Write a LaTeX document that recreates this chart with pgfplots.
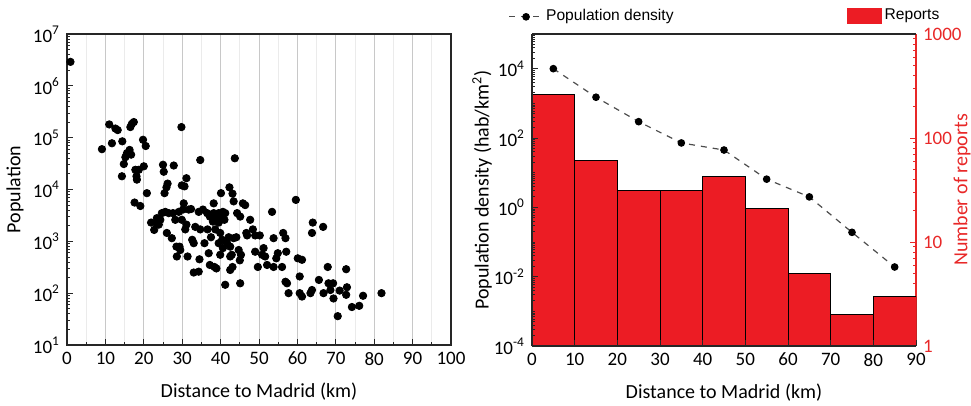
\documentclass[border=0pt]{standalone}
\usepackage{pgfplots}
\pgfplotsset{compat=1.18}
\usepackage{fontspec}
\setmainfont{Carlito}
\newfontfamily\arialfont{Liberation Sans}
\definecolor{barred}{RGB}{236,28,36}
\definecolor{axred}{RGB}{232,40,40}
\definecolor{gridgray}{RGB}{200,200,200}
\definecolor{gridlight}{RGB}{235,235,235}

\pgfplotstableread{
d P
0.9 2.9e6
9.1 6.0e4
11.0 1.8e5
11.7 7.8e4
12.6 1.5e5
13.2 1.4e5
14.4 8.5e4
14.8 3.1e4
15.2 4.2e4
14.3 1.8e4
15.6 5.0e4
16.3 5.8e4
16.7 4.7e4
16.5 1.6e5
17.4 2.0e5
16.9 1.85e5
17.8 2.4e4
18.2 1.55e4
18.1 1.8e4
17.6 5.6e3
19.1 4.8e3
18.7 2.4e4
19.8 9.1e4
20.5 6.9e4
20.0 2.8e4
20.8 8.5e3
21.9 2.3e3
22.7 1.66e3
23.4 2.8e3
23.9 2.1e3
24.3 2.6e3
24.7 3.5e3
25.0 3.0e4
25.2 2.2e4
25.4 8.5e3
25.9 1.1e4
26.2 1.3e4
25.6 3.7e3
26.0 1.45e3
26.5 3.5e3
27.3 1.15e3
27.8 2.9e4
28.2 2.6e3
28.5 7.9e2
28.6 5.1e2
29.3 7.9e2
29.5 6.8e2
29.1 3.7e3
29.8 1.6e5
29.9 1.2e4
30.6 1.15e4
31.1 1.65e4
30.4 5.4e3
30.2 4.1e3
30.8 1.7e3
31.1 2.1e3
31.4 5.1e2
31.7 4.1e3
32.3 4.2e3
33.0 9.2e2
33.0 2.5e2
34.3 2.6e2
34.7 3.7e4
34.5 4.5e2
34.3 3.7e3
34.7 1.7e3
35.4 4.1e3
35.8 9.2e2
36.5 3.5e3
36.6 1.7e3
36.9 5.9e2
37.2 3.5e2
37.5 1.2e3
38.2 5.4e3
38.2 3.5e3
38.0 2.4e3
38.4 3.2e2
38.9 3.0e2
38.6 1.7e3
39.1 2.6e3
39.5 9.2e2
39.5 3.5e3
39.9 5.5e2
39.9 1.45e3
40.1 8.5e3
40.4 3.0e3
40.6 7.4e2
40.4 1.07e3
41.2 1.45e2
41.2 3.5e3
41.0 2.6e3
41.7 9.2e2
42.3 1.1e4
42.5 7.9e2
42.5 2.8e2
43.1 8.3e3
43.1 3.2e2
43.4 5.9e3
43.7 4.0e4
43.4 1.15e3
44.1 1.2e3
44.3 3.5e3
42.9 5.5e2
44.7 6.8e2
45.1 3.0e3
45.0 4.3e2
45.1 1.55e2
45.3 5.5e2
45.8 5.4e3
46.4 5.0e3
46.7 1.45e3
46.9 1.3e3
47.7 2.6e3
48.4 1.7e3
49.0 1.3e3
49.0 6.3e2
49.7 3.2e2
50.2 1.3e3
50.8 5.5e2
51.2 7.4e2
51.6 5.1e2
52.1 3.5e2
53.4 3.7e3
53.8 1.15e3
53.8 3.2e2
54.5 4.7e2
54.9 5.9e2
56.0 3.2e2
56.3 1.45e3
56.9 1.15e3
56.9 1.66e2
57.3 1.55e2
57.1 6.3e2
57.7 100
59.6 6.3e3
60.1 4.7e2
61.2 4.4e2
60.6 2.1e2
60.6 100
61.2 86
63.4 100
63.8 115
63.8 1.45e3
64.0 2.3e3
65.6 1.8e2
66.7 1.9e3
66.8 100
67.9 3.2e2
68.1 1.55e2
68.6 115
69.3 1.55e2
69.4 79
70.5 36
71.0 112
72.7 2.9e2
72.7 93
72.9 1.3e2
74.2 54
76.1 57
77.1 89
81.9 100
37.2 3.0e3
39.5 2.3e3
38.6 2.8e3
40.1 2.6e3
40.6 3.7e3
42.1 1.2e3
42.5 5.1e2
32.6 1.07e3
33.4 1.9e3
29.9 2.6e3
27.6 3.5e3
23.4 2.2e3
}\popdata

\pgfplotstableread{
x reports
0 261
10 61
20 31.6
30 31.6
40 43
50 21
60 5
70 2
80 3
90 3
}\reportdata

\pgfplotstableread{
x dens
5 1.0e4
15 1500
25 296
35 72
45 45
55 6.5
65 2.0
75 0.19
85 0.019
}\densdata

\begin{document}
\begin{tikzpicture}
\path[use as bounding box] (0,0) rectangle (485.5pt,-203pt);
\pgfplotsset{
  common/.style={
    scale only axis,
    font=\fontsize{10}{12}\selectfont,
    ticklabel style={font=\fontsize{9.5}{11}\selectfont},
    tick align=inside,
    major tick length=3pt, minor tick length=1.6pt,
    axis line style={black!85, line width=0.6pt},
    every tick/.style={black!85, line width=0.4pt},
    grid style={gridgray, line width=0.5pt},
    minor grid style={gridlight, line width=0.4pt},
  },
  leg/.style={draw=none, fill=none, inner sep=0pt,
    font=\fontsize{7.8}{9}\selectfont\arialfont,
    nodes={inner sep=1.2pt}},
}
% ---------- left panel ----------
\begin{axis}[common,
  at={(33.5pt,-17pt)}, anchor=north west,
  width=192pt, height=155.5pt,
  xmin=0, xmax=100, ymode=log, ymin=10, ymax=1e7,
  xtick={0,10,20,30,40,50,60,70,80,90,100},
  xticklabels={0,10,20,30,40,50,60,70,80,90,100},
  minor xtick={5,15,25,35,45,55,65,75,85,95},
  xmajorgrids, xminorgrids,
  ytick={1e1,1e2,1e3,1e4,1e5,1e6,1e7},
  yticklabels={10\textsuperscript{1},10\textsuperscript{2},10\textsuperscript{3},10\textsuperscript{4},10\textsuperscript{5},10\textsuperscript{6},10\textsuperscript{7}},
  minor ytick={2e1,3e1,4e1,5e1,6e1,7e1,8e1,9e1,2e2,3e2,4e2,5e2,6e2,7e2,8e2,9e2,2e3,3e3,4e3,5e3,6e3,7e3,8e3,9e3,2e4,3e4,4e4,5e4,6e4,7e4,8e4,9e4,2e5,3e5,4e5,5e5,6e5,7e5,8e5,9e5,2e6,3e6,4e6,5e6,6e6,7e6,8e6,9e6},
  xtick pos=bottom, ytick pos=left,
  xlabel={Distance to Madrid (km)}, ylabel={Population},
  xlabel style={at={(axis description cs:0.5,-0.15)}, anchor=center},
  ylabel style={at={(axis description cs:-0.135,0.5)}, anchor=center},
]
\addplot[only marks, mark=*, mark size=1.85pt, black] table[x=d, y=P] {\popdata};
\end{axis}
% ---------- right panel: reports (bars, right axis) ----------
\begin{axis}[common,
  at={(266pt,-17pt)}, anchor=north west,
  width=192pt, height=156pt,
  xmin=0, xmax=90,
  xtick={0,10,20,30,40,50,60,70,80,90}, xticklabels={},
  xmajorgrids, x tick style={draw=none},
  axis y line*=right, axis x line=none,
  ymode=log, ymin=1, ymax=1000,
  ytick={1,10,100,1000}, yticklabels={1,10,100,1000},
  minor ytick={2,3,4,5,6,7,8,9,20,30,40,50,60,70,80,90,200,300,400,500,600,700,800,900},
  y axis line style={axred, line width=0.6pt},
  y tick style={axred},
  yticklabel style={text=axred},
  ylabel={Number of reports},
  ylabel style={text=axred, at={(axis description cs:1.12,0.5)}, anchor=center},
  legend style={leg, at={(1.068,1.059)}, anchor=east},
]
\addplot[ybar interval, fill=barred, draw=black, line width=0.4pt,
  legend image code/.code={\fill[barred] (0pt,-3.75pt) rectangle (17pt,3.75pt);}]
  table[x=x, y=reports] {\reportdata};
\addlegendentry{Reports}
\end{axis}
% ---------- right panel: density (line, left axis) ----------
\begin{axis}[common,
  at={(266pt,-17pt)}, anchor=north west,
  width=192pt, height=156pt,
  xmin=0, xmax=90,
  xtick={0,10,20,30,40,50,60,70,80,90},
  xticklabels={0,10,20,30,40,50,60,70,80,90},
  xtick pos=bottom,
  axis y line*=left,
  ymode=log, ymin=1e-4, ymax=1e5,
  ytick={1e-4,1e-2,1,1e2,1e4},
  yticklabels={10\textsuperscript{-4},10\textsuperscript{-2},10\textsuperscript{0},10\textsuperscript{2},10\textsuperscript{4}},
  minor ytick={2e-4,3e-4,4e-4,5e-4,6e-4,7e-4,8e-4,9e-4,1e-3,2e-3,3e-3,4e-3,5e-3,6e-3,7e-3,8e-3,9e-3,2e-2,3e-2,4e-2,5e-2,6e-2,7e-2,8e-2,9e-2,1e-1,2e-1,3e-1,4e-1,5e-1,6e-1,7e-1,8e-1,9e-1,2,3,4,5,6,7,8,9,10,20,30,40,50,60,70,80,90,200,300,400,500,600,700,800,900,1e3,2e3,3e3,4e3,5e3,6e3,7e3,8e3,9e3,2e4,3e4,4e4,5e4,6e4,7e4,8e4,9e4},
  xlabel={Distance to Madrid (km)},
  ylabel={Population density (hab/km\textsuperscript{2})},
  xlabel style={at={(axis description cs:0.5,-0.15)}, anchor=center},
  ylabel style={at={(axis description cs:-0.13,0.5)}, anchor=center},
  legend style={leg, at={(-0.0625,1.055)}, anchor=west},
]
\addplot[black!70, dashed, line width=0.6pt, mark=*, mark size=1.6pt,
  mark options={solid, fill=black, draw=black}]
  table[x=x, y=dens] {\densdata};
\addlegendentry{Population density}
\end{axis}
\end{tikzpicture}
\end{document}
